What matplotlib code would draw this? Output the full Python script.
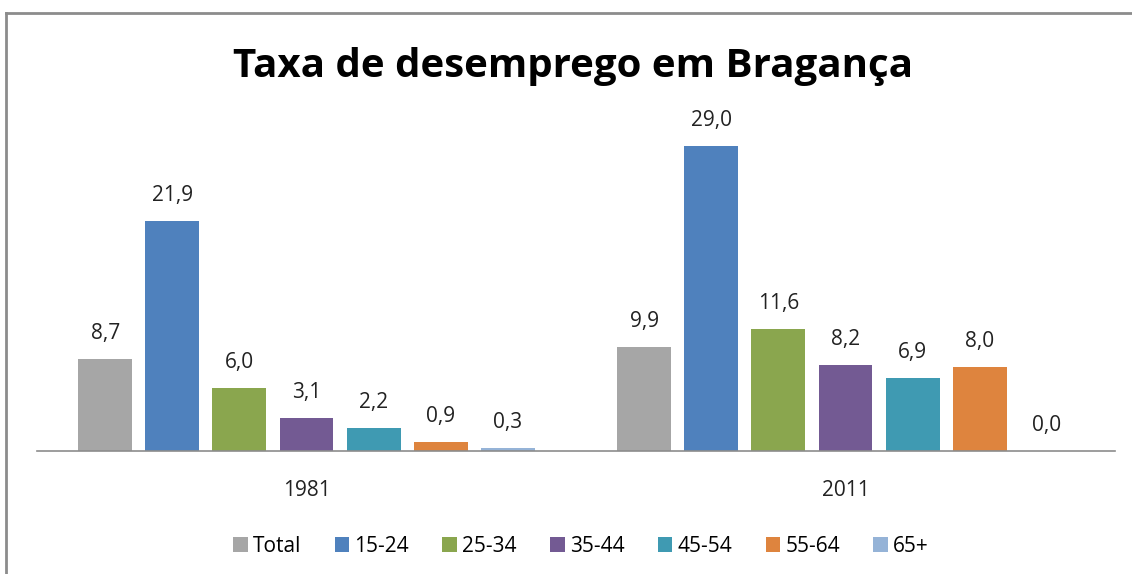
import matplotlib
matplotlib.use("Agg")
import matplotlib.pyplot as plt
from matplotlib.lines import Line2D
import numpy as np

years = ["1981", "2011"]
groups = ["Total", "15-24", "25-34", "35-44", "45-54", "55-64", "65+"]
values_1981 = [8.7, 21.9, 6.0, 3.1, 2.2, 0.9, 0.3]
values_2011 = [9.9, 29.0, 11.6, 8.2, 6.9, 8.0, 0.0]
colors = ["#A6A6A6", "#4F81BD", "#8AA64E", "#735A93", "#3F9AB2", "#DE843E", "#95B3D7"]

plt.rcParams['font.family'] = ['Open Sans', 'DejaVu Sans']

W, H = 1132, 574
fig = plt.figure(figsize=(W / 100, H / 100), dpi=100)

# axes placed in pixel terms: baseline y=451, x from 37 to 1115
ymax = 32
px_per_unit = 10.52
ax = fig.add_axes([37 / W, (H - 451) / H, (1115 - 37) / W, ymax * px_per_unit / H])

x = np.arange(len(years))
width = 0.1
step = 0.1245
for i, g in enumerate(groups):
    vals = [values_1981[i], values_2011[i]]
    pos = x + (i - 3) * step
    ax.bar(pos, vals, width, color=colors[i], label=g)
    for xp, v in zip(pos, vals):
        ax.annotate(f"{v:.1f}".replace(".", ","), (xp, v), xytext=(0, 20),
                    textcoords="offset pixels", ha="center", va="baseline",
                    fontsize=15, color="#222222")

ax.set_xlim(-0.5, 1.5)
ax.set_ylim(0, ymax)
for s in ["top", "right", "left"]:
    ax.spines[s].set_visible(False)
ax.spines["bottom"].set_color("#8C8C8C")
ax.spines["bottom"].set_linewidth(1.2)
ax.set_yticks([])
ax.set_xticks(x)
ax.set_xticklabels(years, fontsize=15, color="#222222")
ax.tick_params(axis="x", length=0, pad=21)

fig.text(573 / W, (H - 67) / H, "Taxa de desemprego em Bragança",
         ha="center", va="center", fontsize=29, fontweight="bold")

fig.legend(loc="center", bbox_to_anchor=(581 / W, (H - 546) / H), ncol=7,
           frameon=False, fontsize=15, handlelength=0.7, handleheight=0.7,
           handletextpad=0.25, columnspacing=1.6)

# chart border (top and left edges visible)
fig.add_artist(Line2D([6 / W, 1], [(H - 13) / H, (H - 13) / H],
                      transform=fig.transFigure, color="#8C8C8C", lw=2))
fig.add_artist(Line2D([6 / W, 6 / W], [0, (H - 13) / H],
                      transform=fig.transFigure, color="#8C8C8C", lw=2))

fig.savefig("out.png", dpi=100, facecolor="white")
